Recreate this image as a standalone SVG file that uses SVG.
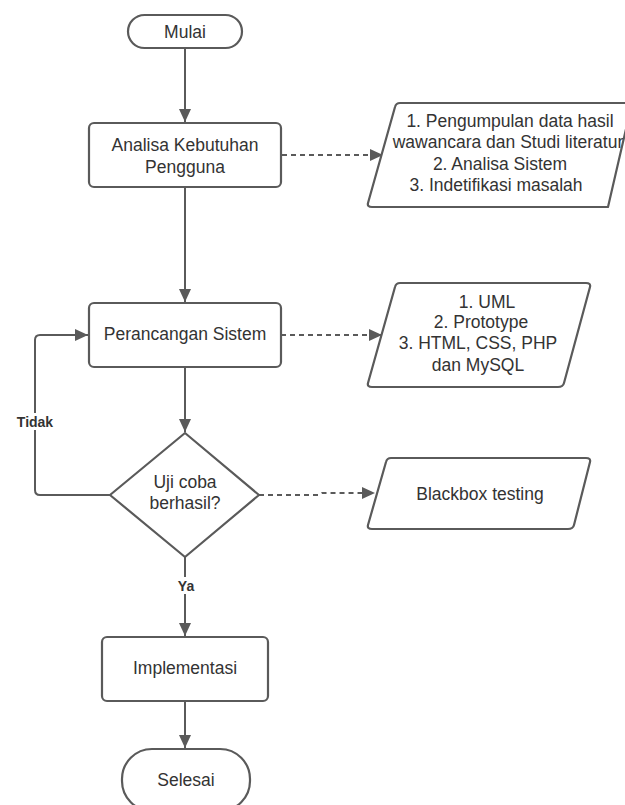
<svg xmlns="http://www.w3.org/2000/svg" width="625" height="805" viewBox="0 0 625 805">
<defs>
<marker id="ah" markerUnits="userSpaceOnUse" markerWidth="14" markerHeight="12" refX="13" refY="6" orient="auto">
<path d="M0,0 L13,6 L0,12 Z" fill="#5a5a5a"/>
</marker>
<style>
.shape{fill:#ffffff;stroke:#5a5a5a;stroke-width:2.2;stroke-linejoin:round}
.t{font-family:"Liberation Sans",Arial,sans-serif;font-size:17.5px;fill:#333333;text-anchor:middle}
.lbl{font-family:"Liberation Sans",Arial,sans-serif;font-size:14px;font-weight:bold;fill:#333333;text-anchor:middle}
.c{fill:none;stroke:#5a5a5a;stroke-width:2}
.d{fill:none;stroke:#5a5a5a;stroke-width:2;stroke-dasharray:5 4}
</style>
</defs>
<rect width="625" height="805" fill="#ffffff"/>
<g id="connectors">
<path class="c" d="M185,48 L185,122" marker-end="url(#ah)"/>
<path class="d" d="M282,155 L383,155" marker-end="url(#ah)"/>
<path class="c" d="M185,187 L185,302" marker-end="url(#ah)"/>
<path class="d" d="M281,335 L382,335" marker-end="url(#ah)"/>
<path class="c" d="M185,367 L185,432" marker-end="url(#ah)"/>
<path class="d" d="M259,495 L318,495 L322,493 L375,493" marker-end="url(#ah)"/>
<path class="c" d="M110,495 L40,495 Q35,495 35,490 L35,340 Q35,335 40,335 L88,335" marker-end="url(#ah)"/>
<path class="c" d="M185,557 L185,636" marker-end="url(#ah)"/>
<path class="c" d="M185,701 L185,748" marker-end="url(#ah)"/>
<rect x="14" y="413" width="42" height="17" fill="#ffffff"/>
<text class="lbl" x="35" y="427">Tidak</text>
<rect x="174" y="577" width="24" height="17" fill="#ffffff"/>
<text class="lbl" x="186" y="591">Ya</text>
</g>
<g id="mulai">
<rect class="shape" x="128" y="15" width="114" height="33" rx="16.5"/>
<text class="t" x="185" y="38">Mulai</text>
</g>
<g id="analisa">
<rect class="shape" x="89" y="123" width="192" height="64" rx="5"/>
<text class="t" x="185" y="151">Analisa Kebutuhan</text>
<text class="t" x="185" y="173">Pengguna</text>
</g>
<g id="data1">
<path class="shape" d="M400,103 L632,103 L608,207 L372,207 Q367,207 368,203 L395,107 Q396,103 400,103 Z"/>
<text class="t" x="510" y="127">1. Pengumpulan data hasil</text>
<text class="t" x="508" y="148">wawancara dan Studi literatur</text>
<text class="t" x="500" y="170">2. Analisa Sistem</text>
<text class="t" x="496" y="191">3. Indetifikasi masalah</text>
</g>
<g id="perancangan">
<rect class="shape" x="89" y="303" width="192" height="64" rx="5"/>
<text class="t" x="185" y="340">Perancangan Sistem</text>
</g>
<g id="data2">
<path class="shape" d="M400,283 L586,283 Q591,283 590,287 L564,383 Q563,387 558,387 L372,387 Q367,387 368,383 L395,287 Q396,283 400,283 Z"/>
<text class="t" x="487" y="308">1. UML</text>
<text class="t" x="481" y="328">2. Prototype</text>
<text class="t" x="478" y="349">3. HTML, CSS, PHP</text>
<text class="t" x="478" y="371">dan MySQL</text>
</g>
<g id="ujicoba">
<path class="shape" d="M185,433 L259,495 L185,557 L110,495 Z"/>
<text class="t" x="185" y="488">Uji coba</text>
<text class="t" x="185" y="509">berhasil?</text>
</g>
<g id="blackbox">
<path class="shape" d="M391,458 L586,458 Q591,458 590,462 L574,525 Q573,529 568,529 L372,529 Q367,529 368,525 L386,462 Q387,458 391,458 Z"/>
<text class="t" x="480" y="500">Blackbox testing</text>
</g>
<g id="implementasi">
<rect class="shape" x="102" y="637" width="166" height="64" rx="5"/>
<text class="t" x="185" y="674">Implementasi</text>
</g>
<g id="selesai">
<rect class="shape" x="122" y="749" width="128" height="62" rx="30"/>
<text class="t" x="186" y="786">Selesai</text>
</g>
</svg>
